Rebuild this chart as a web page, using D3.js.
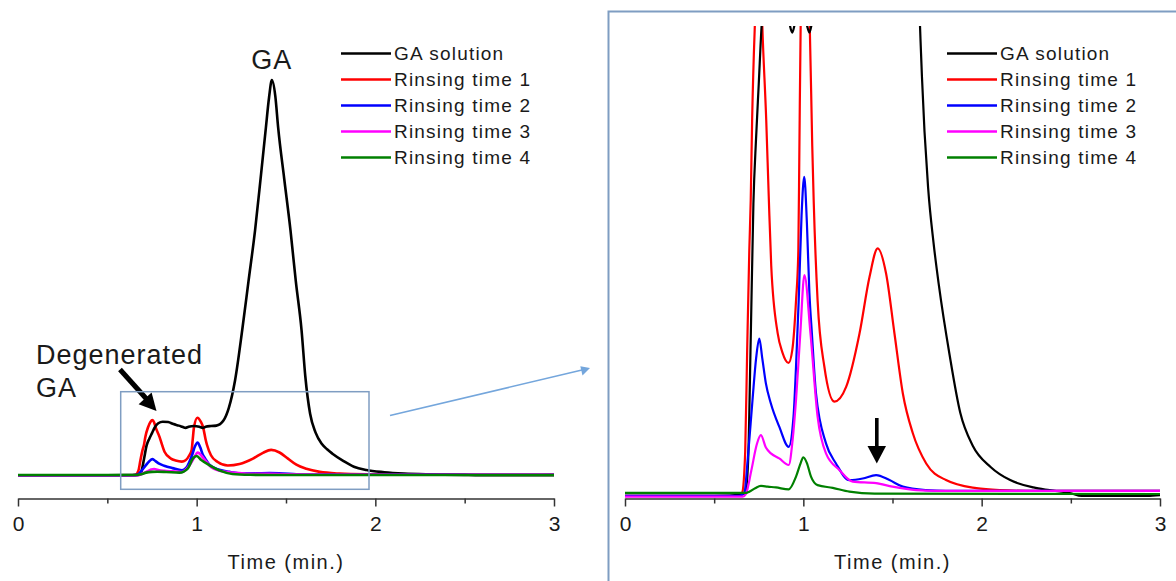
<!DOCTYPE html>
<html><head><meta charset="utf-8">
<script src="https://cdn.jsdelivr.net/npm/d3@7"></script>
<style>
html,body{margin:0;padding:0;background:#fff;}
svg{display:block;}
text{font-family:"Liberation Sans",Arial,sans-serif;fill:#1a1a1a;}
</style></head><body>
<svg id="chart" width="1176" height="581"></svg>
<script>
// ---------- data ----------
const seriesNames  = ["GA solution","Rinsing time 1","Rinsing time 2","Rinsing time 3","Rinsing time 4"];
const seriesColors = ["#000000","#ff0000","#0000ff","#ff00ff","#008000"];
const xTicks = [0,1,2,3];
const xMinorTicks = [0.5,1.5,2.5];
const xLabel = "Time (min.)";

const gaTime  = [0,0.5,0.675,0.69,0.705,0.72,0.735,0.75,0.766,0.785,0.81,0.84,0.87,0.90,0.92,0.938,0.955,0.985,1.015,1.034,1.05,1.08,1.11,1.15,1.18,1.215,1.255,1.29,1.327,1.36,1.386,1.405,1.421,1.44,1.456,1.49,1.525,1.555,1.587,1.608,1.635,1.665,1.70,1.73,1.76,1.82,1.88,1.95,2.05,2.16,2.29,2.38,2.5,2.56,2.93,3.0];
const gaValue = [-0.5,-0.5,0,8,40,75,92,106,121,131,135,134,129,125,122,119.3,122,124,122,119.3,122,124,125,138,170,240,367,490,620,760,873,955,1000,960,880,750,620,490,367,250,155,108,79,65,54,36,21,12.5,7,3.6,1.7,1.0,0.2,-0.5,-0.5,-0.3];

const rinse1Time  = [0,0.64,0.657,0.674,0.685,0.697,0.705,0.713,0.728,0.742,0.752,0.762,0.770,0.792,0.806,0.820,0.856,0.882,0.917,0.938,0.959,0.972,0.978,0.985,1.004,1.022,1.036,1.05,1.058,1.080,1.118,1.174,1.24,1.315,1.371,1.417,1.464,1.511,1.558,1.614,1.689,1.80,1.97,2.10,2.3,3.0];
const rinse1Value = [-0.5,-0.5,0.3,11,37,63,76,97,121,135,139,133,121,96.6,77,59,41.6,36.7,33.9,37.2,50,63,90,121,145,136,121,90,76,50,32.9,23.9,27.7,41.5,56.1,63.5,57,41.5,26,15.7,7.9,3.6,1.5,1.0,0.8,0.8];

const rinse2Time  = [0,0.64,0.669,0.69,0.715,0.735,0.753,0.77,0.79,0.818,0.865,0.918,0.945,0.959,0.974,0.99,1.005,1.02,1.034,1.048,1.071,1.127,1.183,1.258,1.333,1.408,1.483,1.558,1.689,1.8,3.0];
const rinse2Value = [-0.5,-0.5,0.3,10,24.3,35,40.2,35,28.6,23.4,17.4,12.2,20,32.9,50,72,82,70,52,41.5,26,13.1,7.9,3.6,4.0,4.9,3.6,1.9,1.0,0.8,0.8];

const rinse3Time  = [0,0.66,0.678,0.708,0.74,0.762,0.79,0.818,0.865,0.918,0.94,0.959,0.983,1.006,1.04,1.08,1.127,1.202,1.277,1.408,1.5,1.633,1.75,3.0];
const rinse3Value = [-0.7,-0.7,0,6,13,15.2,12,10.5,9.2,7.5,14,24.3,41.5,56.6,41.5,20,10.5,6.2,3.2,2.8,1.9,1.0,0.8,0.8];

const rinse4Time  = [0,0.68,0.697,0.73,0.762,0.80,0.846,0.918,0.959,0.985,1.0,1.02,1.043,1.08,1.165,1.258,1.4,3.0];
const rinse4Value = [0.3,0.3,0.6,1.5,2.1,1.9,1.7,1.2,4.5,8,9.5,8,4.5,2.3,1.6,0.6,0.1,0];

// overview panel trace of rinsing time 4 (as drawn in the left panel)
const rinse4OverviewTime  = [0,0.66,0.69,0.717,0.75,0.78,0.83,0.904,0.951,0.979,1.0,1.026,1.07,1.13,1.2,1.3,1.4,3.0];
const rinse4OverviewValue = [0,0,2,6,8,8.4,7.6,6,17,42,48,38,25,11,2.5,0.5,0,0];

const overviewYDomain = [0,1000];
const zoomYDomain = [0,121];

// ---------- drawing ----------
const svg = d3.select("#chart");
const zip = (t,v) => t.map((d,i)=>[d,v[i]]);

const mainSeries = [
  zip(gaTime,gaValue), zip(rinse1Time,rinse1Value), zip(rinse2Time,rinse2Value),
  zip(rinse3Time,rinse3Value), zip(rinse4Time,rinse4Value)
];
const overviewSeries = mainSeries.slice(0,4).concat([zip(rinse4OverviewTime,rinse4OverviewValue)]);
const drawOrder = [1,0,2,3,4];

function panel(g, x, y, series, lw, clipId, clipRect, legendX){
  let holder = g;
  if (clipId){
    svg.append("defs").append("clipPath").attr("id",clipId)
      .append("rect").attr("x",clipRect[0]).attr("y",clipRect[1]).attr("width",clipRect[2]).attr("height",clipRect[3]);
    holder = g.append("g").attr("clip-path",`url(#${clipId})`);
  }
  const line = d3.line().x(d=>x(d[0])).y(d=>y(d[1])).curve(d3.curveMonotoneX);
  drawOrder.forEach(i=>{
    holder.append("path").attr("d",line(series[i])).attr("fill","none")
      .attr("stroke",seriesColors[i]).attr("stroke-width",lw).attr("stroke-linejoin","round");
  });
  // axis
  const axisY = 498.5;
  const ax = g.append("g").attr("transform",`translate(0,${axisY})`)
    .call(d3.axisBottom(x).tickValues(xTicks).tickSize(8).tickSizeOuter(0).tickPadding(9.5).tickFormat(d3.format("d")));
  const axm = g.append("g").attr("transform",`translate(0,${axisY})`)
    .call(d3.axisBottom(x).tickValues(xMinorTicks).tickSize(5).tickSizeOuter(0).tickFormat(""));
  axm.select(".domain").remove();
  [ax,axm].forEach(a=>{
    a.selectAll("line").attr("stroke","#333").attr("stroke-width",1.5);
    a.selectAll(".domain").attr("stroke","#333").attr("stroke-width",1.5);
  });
  ax.selectAll("text").attr("font-size",21).attr("fill","#1a1a1a")
    .attr("font-family",'"Liberation Sans",Arial,sans-serif');
  g.append("text").attr("x",x(1.5)).attr("y",569).attr("text-anchor","middle")
    .attr("font-size",20).attr("letter-spacing","1.5px").text(xLabel);
  // legend
  seriesNames.forEach((n,i)=>{
    const ly = 53.5 + 26*i;
    g.append("line").attr("x1",legendX).attr("x2",legendX+50).attr("y1",ly).attr("y2",ly)
      .attr("stroke",seriesColors[i]).attr("stroke-width",2.5);
    g.append("text").attr("x",legendX+53).attr("y",ly).attr("dy","0.36em")
      .attr("font-size",19).attr("letter-spacing","1.2px").text(n);
  });
}

// Left (overview) panel
const xL = d3.scaleLinear().domain([0,3]).range([18,554]);
const yL = d3.scaleLinear().domain(overviewYDomain).range([475,80]);
const gL = svg.append("g");
panel(gL, xL, yL, overviewSeries, 2.6, null, null, 341);

// Right (zoomed) panel
const xR = d3.scaleLinear().domain([0,3]).range([625,1160]);
const yR = d3.scaleLinear().domain(zoomYDomain).range([494,26]);
const gR = svg.append("g");
gR.append("rect").attr("x",608.5).attr("y",11.5).attr("width",620).attr("height",620)
  .attr("fill","none").attr("stroke","#7f9dc2").attr("stroke-width",2);
panel(gR, xR, yR, mainSeries, 2.2, "clipR", [610,yR(zoomYDomain[1]),566,490], 947);

// ---------- annotations ----------
// GA label
gL.append("text").attr("x",xL(1.42)).attr("y",68.5).attr("text-anchor","middle")
  .attr("font-size",27).attr("letter-spacing","1px").text("GA");
// Degenerated GA
gL.append("text").attr("x",36).attr("y",363.5).attr("font-size",27).attr("letter-spacing","1px").text("Degenerated");
gL.append("text").attr("x",36).attr("y",396.5).attr("font-size",27).attr("letter-spacing","1px").text("GA");
// black arrow
gL.append("line").attr("x1",120).attr("y1",369.5).attr("x2",147).attr("y2",399.5)
  .attr("stroke","#000").attr("stroke-width",5);
gL.append("path").attr("d","M156.5,411 L151.6,392.6 L138.6,404.2 Z").attr("fill","#000");
// zoom box
gL.append("rect").attr("x",120.7).attr("y",391.7).attr("width",248.3).attr("height",97.6)
  .attr("fill","none").attr("stroke","#7f9dc2").attr("stroke-width",1.5);
// connector arrow
svg.append("line").attr("x1",390).attr("y1",415.5).attr("x2",582).attr("y2",370)
  .attr("stroke","#74a6dc").attr("stroke-width",1.6);
svg.append("path").attr("d","M590,368 L580.3,366.3 L582.5,375.6 Z").attr("fill","#74a6dc");
// down arrow in zoomed panel
gR.append("rect").attr("x",875).attr("y",418).attr("width",3.6).attr("height",30).attr("fill","#000");
gR.append("path").attr("d","M867.5,446 L886,446 L876.8,463.5 Z").attr("fill","#000");
</script>
</body></html>
